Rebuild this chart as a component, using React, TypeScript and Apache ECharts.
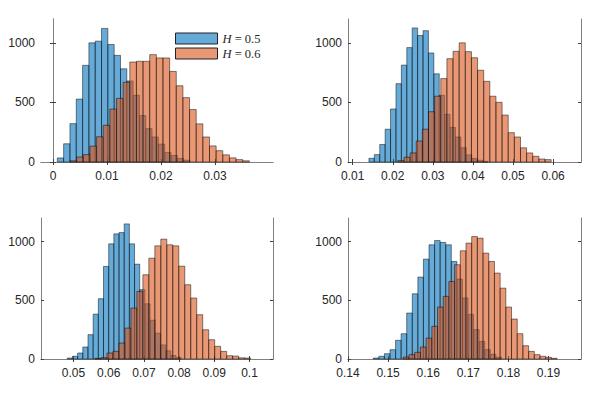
import React, { useEffect, useRef } from "react";
import * as echarts from "echarts";

// Panel 1
const p1BlueStart = 0.0008;
const p1BlueWidth = 0.00117;
const p1BlueCounts = [34, 153, 322, 528, 811, 1000, 1014, 1121, 986, 895, 782, 680, 560, 390, 280, 210, 150, 80, 55, 30, 15];
const p1OrangeStart = 0.00315;
const p1OrangeWidth = 0.00123;
const p1OrangeCounts = [10, 42, 62, 133, 212, 308, 444, 534, 669, 839, 845, 845, 901, 873, 873, 760, 640, 540, 440, 320, 210, 135, 95, 60, 35, 20, 10];
const p1Ticks = [0, 0.01, 0.02, 0.03];
const p1Range = [-0.00222, 0.04074];

// Panel 2
const p2BlueStart = 0.01405;
const p2BlueWidth = 0.00135;
const p2BlueCounts = [31, 62, 147, 275, 445, 657, 813, 960, 1125, 1062, 1102, 915, 740, 560, 400, 290, 210, 120, 60, 30, 15, 5];
const p2OrangeStart = 0.02127;
const p2OrangeWidth = 0.00153;
const p2OrangeCounts = [12, 40, 76, 176, 275, 422, 552, 700, 867, 929, 1000, 926, 875, 770, 677, 552, 501, 394, 246, 210, 119, 76, 48, 25, 20];
const p2Ticks = [0.01, 0.02, 0.03, 0.04, 0.05, 0.06];
const p2Range = [0.00883, 0.06697];

// Panel 3
const p3BlueStart = 0.04824;
const p3BlueWidth = 0.00147;
const p3BlueCounts = [8, 23, 51, 102, 207, 382, 513, 788, 980, 1065, 1076, 1150, 980, 807, 590, 470, 330, 220, 120, 70, 30, 12];
const p3OrangeStart = 0.05611;
const p3OrangeWidth = 0.0017;
const p3OrangeCounts = [5, 12, 51, 65, 136, 263, 433, 575, 717, 858, 963, 1020, 972, 963, 790, 632, 519, 377, 249, 164, 108, 65, 28, 25, 10, 8];
const p3Ticks = [0.05, 0.06, 0.07, 0.08, 0.09, 0.1];
const p3Range = [0.04077, 0.10668];

// Panel 4
const p4BlueStart = 0.1463;
const p4BlueWidth = 0.00139;
const p4BlueCounts = [8, 23, 45, 79, 159, 215, 391, 555, 697, 850, 972, 1008, 992, 972, 830, 680, 520, 380, 250, 150, 80, 40, 15];
const p4OrangeStart = 0.1538;
const p4OrangeWidth = 0.00142;
const p4OrangeCounts = [17, 37, 57, 102, 178, 278, 442, 533, 660, 802, 921, 986, 1042, 1028, 901, 830, 731, 603, 442, 340, 215, 113, 65, 37, 23, 14, 6];
const p4Ticks = [0.14, 0.15, 0.16, 0.17, 0.18, 0.19];
const p4Range = [0.14, 0.1981];

const yTicks = [0, 500, 1000];
const yMax = 1200;
const seriesNames = ["H = 0.5", "H = 0.6"];

const BLUE = "rgba(0,114,189,0.6)";
const ORANGE = "rgba(217,83,25,0.6)";
const EDGE = "rgba(0,0,0,0.6)";

function bins(start: number, width: number, counts: number[]) {
  return counts.map((c, i) => [start + i * width, start + (i + 1) * width, c]);
}

export default function App() {
  const ref = useRef<HTMLDivElement>(null);
  useEffect(() => {
    if (!ref.current) return;
    const chart = echarts.init(ref.current, null, { renderer: "svg" });
    const panels = [
      { grid: { left: 41, top: 19, width: 232, height: 143 }, ticks: p1Ticks, range: p1Range,
        blue: bins(p1BlueStart, p1BlueWidth, p1BlueCounts), orange: bins(p1OrangeStart, p1OrangeWidth, p1OrangeCounts) },
      { grid: { left: 348, top: 19, width: 233, height: 143 }, ticks: p2Ticks, range: p2Range,
        blue: bins(p2BlueStart, p2BlueWidth, p2BlueCounts), orange: bins(p2OrangeStart, p2OrangeWidth, p2OrangeCounts) },
      { grid: { left: 41, top: 218, width: 232, height: 141 }, ticks: p3Ticks, range: p3Range,
        blue: bins(p3BlueStart, p3BlueWidth, p3BlueCounts), orange: bins(p3OrangeStart, p3OrangeWidth, p3OrangeCounts) },
      { grid: { left: 348, top: 218, width: 233, height: 141 }, ticks: p4Ticks, range: p4Range,
        blue: bins(p4BlueStart, p4BlueWidth, p4BlueCounts), orange: bins(p4OrangeStart, p4OrangeWidth, p4OrangeCounts) },
    ];
    const axisColor = "#808080";
    const labelStyle = { color: "#262626", fontFamily: "Liberation Sans", fontSize: 12 };
    const fmt = (v: number) => String(+Number(v).toFixed(4));
    const grids: any[] = [];
    const xAxes: any[] = [];
    const yAxes: any[] = [];
    const series: any[] = [];
    panels.forEach((p, i) => {
      grids.push({ ...p.grid, containLabel: false });
      const xBase = {
        type: "value", gridIndex: i, min: p.range[0], max: p.range[1],
        axisLine: { show: true, lineStyle: { color: axisColor, width: 1 } },
        axisTick: { show: true, inside: true, length: 3, customValues: p.ticks, lineStyle: { color: "#404040" } },
        splitLine: { show: false },
      };
      xAxes.push({ ...xBase, position: "bottom",
        axisLabel: { show: true, customValues: p.ticks, margin: 8, formatter: fmt, ...labelStyle } });
      xAxes.push({ ...xBase, position: "top", axisLabel: { show: false } });
      const yBase = {
        type: "value", gridIndex: i, min: 0, max: yMax,
        axisLine: { show: true, lineStyle: { color: axisColor, width: 1 } },
        axisTick: { show: true, inside: true, length: 3, customValues: yTicks, lineStyle: { color: "#404040" } },
        splitLine: { show: false },
      };
      yAxes.push({ ...yBase, position: "left",
        axisLabel: { show: true, customValues: yTicks, margin: 6, formatter: (v: number) => String(v), ...labelStyle } });
      yAxes.push({ ...yBase, position: "right", axisLabel: { show: false } });
      [p.blue, p.orange].forEach((data, k) => {
        const fill = k === 0 ? BLUE : ORANGE;
        series.push({
          type: "custom", name: seriesNames[k], xAxisIndex: 2 * i, yAxisIndex: 2 * i,
          data, encode: { x: [0, 1], y: 2 },
          itemStyle: { color: fill, borderColor: EDGE, borderWidth: 1 },
          renderItem: (params: any, api: any) => {
            const a = api.coord([api.value(0), api.value(2)]);
            const b = api.coord([api.value(1), 0]);
            return {
              type: "rect",
              shape: { x: a[0], y: a[1], width: b[0] - a[0], height: b[1] - a[1] },
              style: { fill, stroke: EDGE, lineWidth: 0.8 },
            };
          },
        });
      });
    });
    chart.setOption({
      animation: false,
      backgroundColor: "#ffffff",
      grid: grids,
      xAxis: xAxes,
      yAxis: yAxes,
      series,
      legend: {
        left: 175, top: 32, padding: 0, orient: "vertical", itemWidth: 42, itemHeight: 11, itemGap: 2,
        icon: "rect",
        data: [
          { name: seriesNames[0], itemStyle: { color: BLUE, borderColor: "#222", borderWidth: 1 } },
          { name: seriesNames[1], itemStyle: { color: ORANGE, borderColor: "#222", borderWidth: 1 } },
        ],
        selectedMode: false,
        formatter: (n: string) => "{i|H} = " + n.split("= ")[1],
        textStyle: {
          color: "#262626", fontFamily: "Liberation Serif", fontSize: 12.5, lineHeight: 13,
          rich: { i: { fontStyle: "italic", fontFamily: "Liberation Serif", fontSize: 12.5 } },
        },
      },
    });
    return () => chart.dispose();
  }, []);
  return <div ref={ref} style={{ position: "fixed", left: 0, top: 0, width: 598, height: 394, background: "#fff" }} />;
}
